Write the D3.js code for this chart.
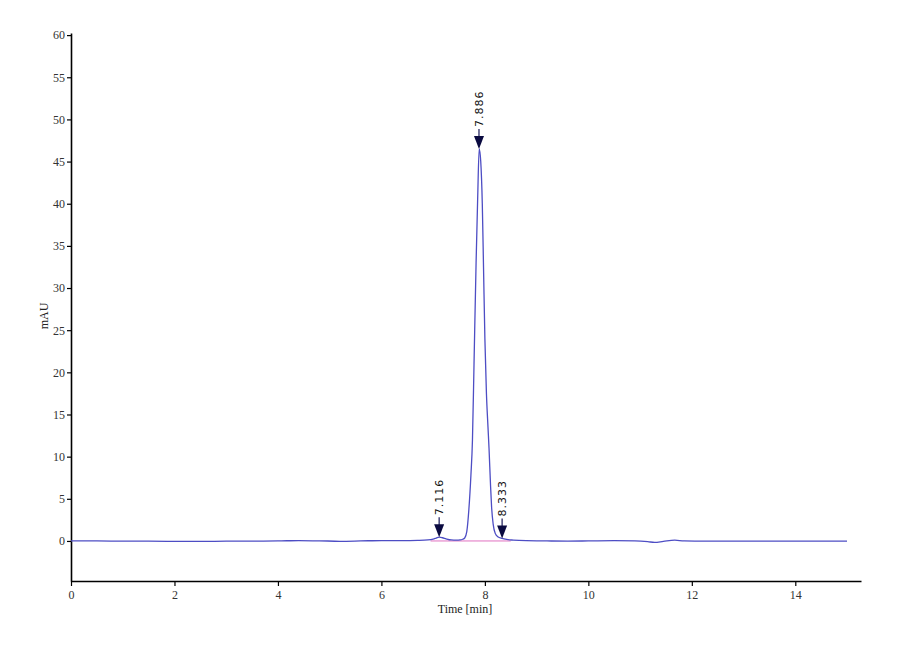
<!DOCTYPE html>
<html>
<head>
<meta charset="utf-8">
<script src="https://cdn.jsdelivr.net/npm/d3@7"></script>
<style>
  body { margin: 0; background: #fff; }
  svg text { font-family: "Liberation Serif", "DejaVu Serif", serif; }
</style>
</head>
<body>
<div id="chart"></div>
<script>
// chromatogram trace (time in min, signal in mAU)
var times = [0, 0.5, 1, 1.5, 2, 2.5, 3, 3.5, 4, 4.4, 4.8, 5.2, 5.6, 6, 6.4, 6.7, 6.9, 7.0, 7.06, 7.116, 7.18, 7.25, 7.35, 7.45, 7.52, 7.57, 7.61, 7.65, 7.69, 7.73, 7.76, 7.79, 7.83, 7.86, 7.89, 7.92, 7.95, 7.975, 8.0, 8.03, 8.06, 8.08, 8.11, 8.13, 8.16, 8.2, 8.25, 8.333, 8.42, 8.55, 8.8, 9.2, 9.6, 10, 10.5, 10.9, 11.15, 11.28, 11.45, 11.67, 11.85, 12.2, 12.8, 13.4, 14, 14.5, 15];
var mau   = [0, 0, -0.02, -0.03, -0.05, -0.05, -0.03, -0.02, 0, 0.05, 0.02, -0.04, 0, 0.05, 0.03, 0.06, 0.12, 0.22, 0.34, 0.45, 0.38, 0.25, 0.12, 0.1, 0.12, 0.2, 0.35, 1.1, 3.7, 7.8, 12, 21, 33, 40.5, 46.5, 45, 40, 32, 24, 17.5, 13.5, 11, 6.5, 4, 2, 0.9, 0.5, 0.3, 0.18, 0.1, 0.03, 0, -0.02, 0, 0.03, 0.02, -0.08, -0.18, -0.05, 0.1, 0.0, -0.02, -0.03, -0.02, -0.02, -0.03, -0.03];

// integration baseline (pink)
var baseTimes = [6.95, 8.5];
var baseMau = [0, 0];

// peak markers
var peakTimes = [7.116, 7.886, 8.333];
var peakMau = [0.45, 46.5, 0.3];
var peakLabels = ["7.116", "7.886", "8.333"];

var xTicks = [0, 2, 4, 6, 8, 10, 12, 14];
var yTicks = [0, 5, 10, 15, 20, 25, 30, 35, 40, 45, 50, 55, 60];

var width = 900, height = 660;

var svg = d3.select("#chart")
    .append("svg")
    .attr("width", width)
    .attr("height", height);

svg.append("rect").attr("width", width).attr("height", height).attr("fill", "#fff");

var x = d3.scaleLinear()
    .domain([0, 15.27])
    .range([71, 861]);

var y = d3.scaleLinear()
    .domain([-4.75, 60.25])
    .range([581, 33]);

// axes
var xAxis = svg.append("g")
    .attr("transform", "translate(0," + y(-4.75) + ")")
    .call(d3.axisBottom(x).tickValues(xTicks).tickSize(5).tickSizeOuter(0).tickPadding(4));

var yAxis = svg.append("g")
    .attr("transform", "translate(" + x(0) + ",0)")
    .call(d3.axisLeft(y).tickValues(yTicks).tickSize(4).tickSizeOuter(0).tickPadding(2));

[xAxis, yAxis].forEach(function(g) {
    g.select(".domain").attr("stroke", "#000").attr("stroke-width", 1.6);
    g.selectAll(".tick line").attr("stroke", "#000").attr("stroke-width", 1.2);
    g.selectAll(".tick text")
        .attr("fill", "#333")
        .style("font-family", "'Liberation Serif', serif")
        .style("font-size", "12px");
});

// trace
var pts = times.map(function(t, i) { return [t, mau[i]]; });
var line = d3.line()
    .x(function(d) { return x(d[0]); })
    .y(function(d) { return y(d[1]); })
    .curve(d3.curveMonotoneX);

svg.append("path")
    .datum(baseTimes.map(function(t, i) { return [t, baseMau[i]]; }))
    .attr("d", d3.line().x(function(d) { return x(d[0]); }).y(function(d) { return y(d[1]); }))
    .attr("fill", "none")
    .attr("stroke", "#e070c0")
    .attr("stroke-width", 1);

svg.append("path")
    .datum(pts)
    .attr("d", line)
    .attr("fill", "none")
    .attr("stroke", "#4d4dc4")
    .attr("stroke-width", 1.3);

// peak arrows + labels
var mk = svg.selectAll(".peak")
    .data(peakTimes)
    .enter()
    .append("g")
    .attr("class", "peak")
    .attr("transform", function(d, i) { return "translate(" + x(d) + "," + y(peakMau[i]) + ")"; });

mk.append("line")
    .attr("x1", 0).attr("x2", 0)
    .attr("y1", -12).attr("y2", -20)
    .attr("stroke", "#1a1a5a")
    .attr("stroke-width", 1.2);

mk.append("path")
    .attr("d", "M-5,-13 L5,-13 L0,0 Z")
    .attr("fill", "#0a0a40");

mk.append("text")
    .attr("transform", "translate(4,-22) rotate(-90)")
    .attr("text-anchor", "start")
    .style("font-family", "'DejaVu Sans', sans-serif")
    .style("font-size", "11px")
    .style("letter-spacing", "1px")
    .attr("fill", "#111")
    .text(function(d, i) { return peakLabels[i]; });

// axis titles
svg.append("text")
    .attr("x", 465)
    .attr("y", 613)
    .attr("text-anchor", "middle")
    .style("font-size", "12px")
    .attr("fill", "#222")
    .text("Time [min]");

svg.append("text")
    .attr("transform", "translate(48,316) rotate(-90)")
    .attr("text-anchor", "middle")
    .style("font-size", "12px")
    .attr("fill", "#222")
    .text("mAU");
</script>
</body>
</html>
